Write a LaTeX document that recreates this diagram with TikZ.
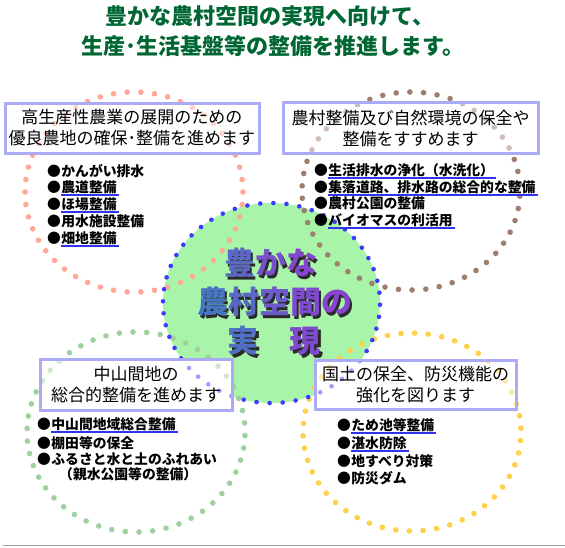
\documentclass[tikz,border=0pt]{standalone}
\usepackage{fontspec}
\setmainfont{Noto Sans CJK JP}
\definecolor{salm}{HTML}{FFA898}
\definecolor{brwn}{HTML}{9E7E6E}
\definecolor{grn}{HTML}{A0D0A0}
\definecolor{yel}{HTML}{FFD04A}
\definecolor{blu}{HTML}{3C3CFF}
\definecolor{cfill}{HTML}{A8F4A8}
\definecolor{boxc}{HTML}{AAAAF5}
\definecolor{ulc}{HTML}{3333EE}
\definecolor{ttl}{HTML}{006633}
\definecolor{cb}{HTML}{3A80C0}
\definecolor{cp}{HTML}{8C40D0}
\definecolor{shd}{HTML}{2A2A2A}
\definecolor{rule}{HTML}{A0A0A0}
\pgfdeclarelayer{bg}
\pgfdeclarelayer{dotsl}
\pgfdeclarelayer{veil}
\pgfsetlayers{bg,dotsl,veil,main}
\newcommand\dotell[8]{\foreach \k in {1,...,#5}{\pgfmathsetmacro\ang{#7+(360/#5)*\k}\fill[#6] ({#1+#3*cos(\ang)},{#2+#4*sin(\ang)}) circle (#8);}}
\newcommand\cch[2]{\textcolor{cp!#1!cb}{#2}}
\newcommand\shadowed[2]{\makebox[0pt][l]{\hspace{2.5pt}\raisebox{-2.5pt}[0pt][0pt]{\textcolor{shd}{#1}}}#2}
\begin{document}
\begin{tikzpicture}[x=1pt,y=-1pt,
  box/.style={draw=boxc, line width=3pt, inner sep=0pt, align=center, font=\fontsize{17}{21}\selectfont},
  bul/.style={anchor=west, inner sep=0pt, font=\fontsize{13.8}{16}\selectfont\bfseries},
  itm/.style={anchor=west, inner sep=0pt, font=\fontsize{13.8}{16}\selectfont\bfseries},
  ul/.style={draw=ulc, line width=2pt},
  ttext/.style={inner sep=0pt, text=ttl, font=\fontsize{22}{22}\selectfont\bfseries},
  ctext/.style={inner sep=0pt, font=\fontsize{31}{31}\selectfont\bfseries}]
\useasboundingbox (0,0) rectangle (565,547);

% title
\node[ttext] (title1) at (270,16) {豊かな農村空間の実現へ向けて、};
\node[ttext] (title2) at (273,46) {生産･生活基盤等の整備を推進します。};

% boxes
\node[box, minimum width=254pt, minimum height=50pt] (b1) at (132,128) {高生産性農業の展開のための\\優良農地の確保･整備を進めます};
\node[box, minimum width=255pt, minimum height=51pt] (b2) at (410.5,128) {農村整備及び自然環境の保全や\\整備をすすめます};
\node[box, minimum width=192pt, minimum height=51pt] (b3) at (136,384.5) {中山間地の\\総合的整備を進めます};
\node[box, minimum width=201pt, minimum height=49pt] (b4) at (415.5,384.5) {国土の保全、防災機能の\\強化を図ります};

% background layers
\begin{pgfonlayer}{bg}
  \fill[cfill] (271.5,303) ellipse [x radius=108.5pt, y radius=100pt];
  \foreach \b in {b1,b2,b3,b4}{\fill[white] (\b.south west) rectangle (\b.north east);}
\end{pgfonlayer}
\begin{pgfonlayer}{dotsl}
  \dotell{134}{192}{109}{100}{50}{salm}{0}{2.8pt}
  \dotell{411}{191}{109}{99}{50}{brwn}{3}{2.8pt}
  \dotell{136}{432}{109}{100}{50}{grn}{2}{2.8pt}
  \dotell{412}{432}{109}{99}{50}{yel}{5}{2.8pt}
  \dotell{271.5}{303}{108.5}{100}{52}{blu}{1}{2.3pt}
\end{pgfonlayer}
\begin{pgfonlayer}{veil}
  \foreach \b in {b1,b2,b3,b4}{\fill[white, opacity=0.5] (\b.south west) rectangle (\b.north east);}
\end{pgfonlayer}

% central text (with drop shadow inside each node)
\node[ctext] (c1) at (270.5,263) {\shadowed{豊かな}{\cch{40}{豊}\cch{75}{か}\cch{90}{な}}};
\node[ctext] (c2) at (274.5,302) {\shadowed{農村空間の}{\cch{15}{農}\cch{40}{村}\cch{60}{空}\cch{85}{間}\cch{95}{の}}};
\node[ctext] (c3) at (274,341) {\shadowed{実　現}{\cch{25}{実}　\cch{85}{現}}};

% list TL
\node[bul] (p1a) at (47,171) {●}; \node[itm] (q1a) at (p1a.east) {かんがい排水};
\node[bul] (p1b) at (47,187.5) {●}; \node[itm] (q1b) at (p1b.east) {農道整備};
\node[bul] (p1c) at (47,204) {●}; \node[itm] (q1c) at (p1c.east) {ほ場整備};
\node[bul] (p1d) at (47,221) {●}; \node[itm] (q1d) at (p1d.east) {用水施設整備};
\node[bul] (p1e) at (47,238) {●}; \node[itm] (q1e) at (p1e.east) {畑地整備};
\draw[ul] ([yshift=-0.8pt]q1b.south west) -- ([xshift=2pt,yshift=-0.8pt]q1b.south east);
\draw[ul] ([yshift=-0.8pt]q1c.south west) -- ([xshift=2pt,yshift=-0.8pt]q1c.south east);
\draw[ul] ([yshift=-0.8pt]q1e.south west) -- ([xshift=2pt,yshift=-0.8pt]q1e.south east);

% list TR
\node[bul] (p2a) at (314,170) {●}; \node[itm] (q2a) at (p2a.east) {生活排水の浄化（水洗化）};
\node[bul] (p2b) at (314,187) {●}; \node[itm] (q2b) at (p2b.east) {集落道路、排水路の総合的な整備};
\node[bul] (p2c) at (314,203) {●}; \node[itm] (q2c) at (p2c.east) {農村公園の整備};
\node[bul] (p2d) at (314,220) {●}; \node[itm] (q2d) at (p2d.east) {バイオマスの利活用};
\draw[ul] ([yshift=-0.8pt]q2a.south west) -- ([xshift=2pt,yshift=-0.8pt]q2a.south east);
\draw[ul] ([yshift=-0.8pt]q2b.south west) -- ([xshift=2pt,yshift=-0.8pt]q2b.south east);
\draw[ul] ([yshift=-0.8pt]q2d.south west) -- ([xshift=2pt,yshift=-0.8pt]q2d.south east);

% list BL
\node[bul] (p3a) at (37,424) {●}; \node[itm] (q3a) at (p3a.east) {中山間地域総合整備};
\node[bul] (p3b) at (37,443) {●}; \node[itm] (q3b) at (p3b.east) {棚田等の保全};
\node[bul] (p3c) at (37,459) {●}; \node[itm] (q3c) at (p3c.east) {ふるさと水と土のふれあい};
\node[itm] (q3d) at (59,474) {（親水公園等の整備）};
\draw[ul] ([yshift=-0.8pt]q3a.south west) -- ([xshift=2pt,yshift=-0.8pt]q3a.south east);

% list BR
\node[bul] (p4a) at (337,425) {●}; \node[itm] (q4a) at (p4a.east) {ため池等整備};
\node[bul] (p4b) at (337,443) {●}; \node[itm] (q4b) at (p4b.east) {湛水防除};
\node[bul] (p4c) at (337,461) {●}; \node[itm] (q4c) at (p4c.east) {地すべり対策};
\node[bul] (p4d) at (337,478) {●}; \node[itm] (q4d) at (p4d.east) {防災ダム};
\draw[ul] ([yshift=-0.8pt]q4a.south west) -- ([xshift=2pt,yshift=-0.8pt]q4a.south east);
\draw[ul] ([yshift=-0.8pt]q4b.south west) -- ([xshift=2pt,yshift=-0.8pt]q4b.south east);

% bottom rule
\coordinate (r1) at (3,545.5);
\coordinate (r2) at (565,545.5);
\draw[rule, line width=1.5pt] (r1) -- (r2);
\end{tikzpicture}
\end{document}
